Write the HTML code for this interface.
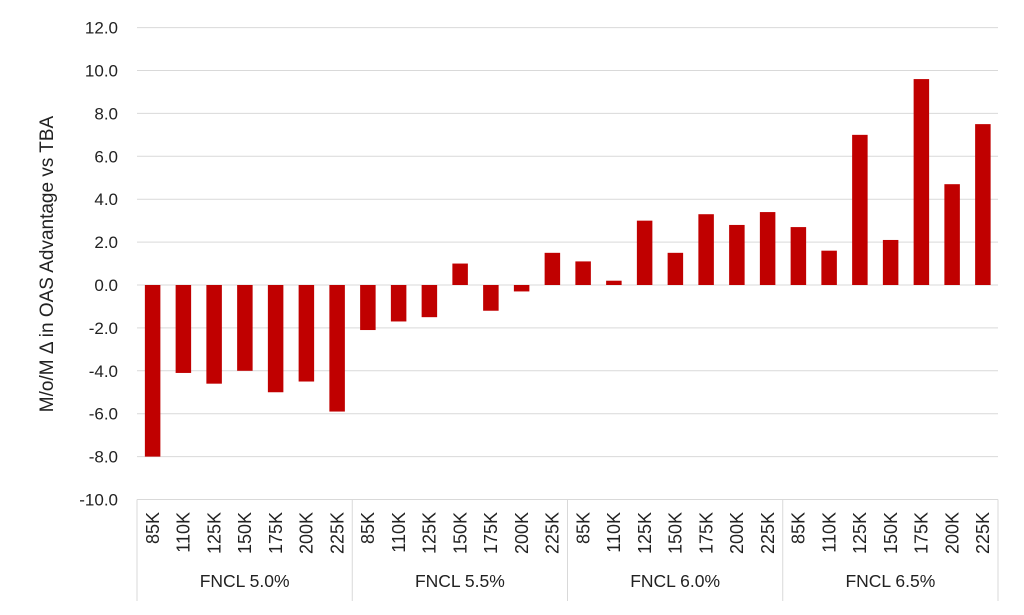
<!DOCTYPE html>
<html><head><style>body{margin:0;background:#fff}svg{display:block}text{font-family:"Liberation Sans",Arial,sans-serif;fill:#222}</style></head>
<body>
<svg width="1024" height="615" xmlns="http://www.w3.org/2000/svg" id="c"></svg>
<script>
const s=document.getElementById('c');let h='';
const y0=285,u=21.45,x0=137,x1=998,cw=(x1-x0)/28;
for(let v=-10;v<=12;v+=2){const y=y0-v*u;
 if(v>-10)h+=`<line x1="${x0}" x2="${x1}" y1="${y}" y2="${y}" stroke="#d9d9d9" stroke-width="1"/>`;
 h+=`<text x="118" y="${y+6}" font-size="17" text-anchor="end">${v.toFixed(1)}</text>`;}
const vals=[-8.0,-4.1,-4.6,-4.0,-5.0,-4.5,-5.9,-2.1,-1.7,-1.5,1.0,-1.2,-0.3,1.5,1.1,0.2,3.0,1.5,3.3,2.8,3.4,2.7,1.6,7.0,2.1,9.6,4.7,7.5];
const labs=['85K','110K','125K','150K','175K','200K','225K'];
vals.forEach((v,i)=>{const cx=x0+cw*(i+0.5),y=y0-v*u;
 h+=`<rect x="${cx-7.5}" y="${Math.min(y,y0)}" width="15.5" height="${Math.abs(v*u)}" fill="#c00000"/>`;
 h+=`<text transform="translate(${cx+6.5},512) rotate(-90)" font-size="18" text-anchor="end">${labs[i%7]}</text>`;});
const yb=y0+10*u;
h+=`<line x1="${x0}" x2="${x1}" y1="${yb}" y2="${yb}" stroke="#d9d9d9"/>`;
for(let g=0;g<=4;g++){const x=x0+g*7*cw;h+=`<line x1="${x}" x2="${x}" y1="${yb}" y2="601" stroke="#d9d9d9"/>`;}
['FNCL 5.0%','FNCL 5.5%','FNCL 6.0%','FNCL 6.5%'].forEach((t,g)=>{h+=`<text x="${x0+(g+0.5)*7*cw}" y="587" font-size="17.5" text-anchor="middle">${t}</text>`;});
h+=`<text transform="translate(53,264) rotate(-90)" font-size="19" text-anchor="middle">M/o/M Δ in OAS Advantage vs TBA</text>`;
s.innerHTML=h;
</script>
</body></html>
